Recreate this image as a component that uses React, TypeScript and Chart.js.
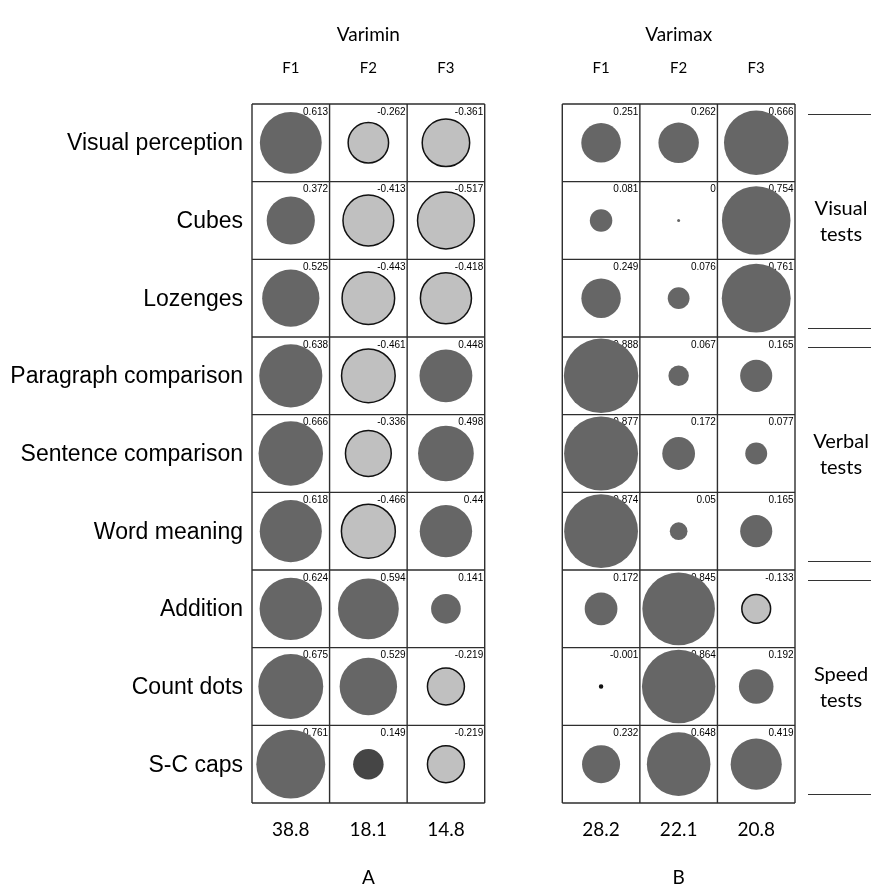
import React, { useEffect, useRef } from "react";
import { Chart, registerables } from "chart.js";

Chart.register(...registerables);

const tests = [
  "Visual perception",
  "Cubes",
  "Lozenges",
  "Paragraph comparison",
  "Sentence comparison",
  "Word meaning",
  "Addition",
  "Count dots",
  "S-C caps",
];
const factors = ["F1", "F2", "F3"];
const panelTitles = ["Varimin", "Varimax"];
const panelLetters = ["A", "B"];

const variminF1 = [0.613, 0.372, 0.525, 0.638, 0.666, 0.618, 0.624, 0.675, 0.761];
const variminF2 = [-0.262, -0.413, -0.443, -0.461, -0.336, -0.466, 0.594, 0.529, 0.149];
const variminF3 = [-0.361, -0.517, -0.418, 0.448, 0.498, 0.44, 0.141, -0.219, -0.219];

const varimaxF1 = [0.251, 0.081, 0.249, 0.888, 0.877, 0.874, 0.172, -0.001, 0.232];
const varimaxF2 = [0.262, 0, 0.076, 0.067, 0.172, 0.05, 0.845, 0.864, 0.648];
const varimaxF3 = [0.666, 0.754, 0.761, 0.165, 0.077, 0.165, -0.133, 0.192, 0.419];

const variminVariance = ["38.8", "18.1", "14.8"];
const varimaxVariance = ["28.2", "22.1", "20.8"];

const groupLabels = [
  ["Visual", "tests"],
  ["Verbal", "tests"],
  ["Speed", "tests"],
];
const groupFirstRow = [0, 3, 6];
const groupLastRow = [2, 5, 8];

const panels = [
  { columns: [variminF1, variminF2, variminF3], variance: variminVariance },
  { columns: [varimaxF1, varimaxF2, varimaxF3], variance: varimaxVariance },
];

const POS = "#666666";
const NEG = "#c0c0c0";
const DARK = "#454545";
const SANS = "'Liberation Sans', Arial, sans-serif";
const CAL = "Lato, 'Open Sans', sans-serif";

function radius(v: number) {
  return Math.max(1.5, 39.5 * Math.sqrt(Math.abs(v)));
}

export default function App() {
  const ref = useRef<HTMLCanvasElement | null>(null);

  useEffect(() => {
    document.body.style.margin = "0";
    document.body.style.overflow = "hidden";
    const canvas = ref.current;
    if (!canvas) return;

    const datasets: any[] = [];
    panels.forEach((panel, p) => {
      panel.columns.forEach((col, j) => {
        datasets.push({
          label: panelTitles[p] + " " + factors[j],
          data: col.map((v, i) => ({ x: p * 4 + j, y: i, r: radius(v), v })),
          backgroundColor: (ctx: any) => {
            const v = ctx.raw ? ctx.raw.v : 0;
            if (p === 0 && j === 1 && ctx.dataIndex === 8) return DARK;
            if (v < 0 && ctx.raw.r < 3) return "#111111";
            return v < 0 ? NEG : POS;
          },
          borderColor: (ctx: any) => {
            const v = ctx.raw ? ctx.raw.v : 0;
            return v < 0 ? "#111111" : "rgba(0,0,0,0)";
          },
          borderWidth: (ctx: any) => {
            const v = ctx.raw ? ctx.raw.v : 0;
            return v < 0 ? 1.5 : 0;
          },
          clip: false,
        });
      });
    });

    const decor = {
      id: "decor",
      beforeDatasetsDraw(chart: any) {
        const c = chart.ctx;
        const xs = chart.scales.x;
        const ys = chart.scales.y;
        c.save();
        c.strokeStyle = "#2e2e2e";
        c.lineWidth = 1.4;
        for (let p = 0; p < 2; p++) {
          const x0 = xs.getPixelForValue(p * 4 - 0.5);
          const x1 = xs.getPixelForValue(p * 4 + 2.5);
          const y0 = ys.getPixelForValue(-0.5);
          const y1 = ys.getPixelForValue(tests.length - 0.5);
          c.beginPath();
          for (let j = 0; j <= 3; j++) {
            const x = xs.getPixelForValue(p * 4 - 0.5 + j);
            c.moveTo(x, y0);
            c.lineTo(x, y1);
          }
          for (let i = 0; i <= tests.length; i++) {
            const y = ys.getPixelForValue(i - 0.5);
            c.moveTo(x0, y);
            c.lineTo(x1, y);
          }
          c.stroke();
        }
        c.fillStyle = "#000";
        c.font = "10px " + SANS;
        c.textAlign = "right";
        c.textBaseline = "alphabetic";
        panels.forEach((panel, p) => {
          panel.columns.forEach((col, j) => {
            col.forEach((v, i) => {
              const xr = xs.getPixelForValue(p * 4 + j + 0.5) - 1.5;
              const yt = ys.getPixelForValue(i - 0.5) + 10.5;
              c.fillText(String(v), xr, yt);
            });
          });
        });
        c.restore();
      },
      afterDraw(chart: any) {
        const c = chart.ctx;
        const xs = chart.scales.x;
        const ys = chart.scales.y;
        const area = chart.chartArea;
        c.save();
        c.fillStyle = "#000";
        c.font = "23px " + SANS;
        c.textAlign = "right";
        c.textBaseline = "middle";
        tests.forEach((t, i) => {
          c.fillText(t, area.left - 9, ys.getPixelForValue(i) + 1);
        });
        c.textAlign = "center";
        panels.forEach((panel, p) => {
          const xc = xs.getPixelForValue(p * 4 + 1);
          c.font = "19px " + CAL;
          c.fillText(panelTitles[p], xc, 35);
          c.font = "15px " + CAL;
          factors.forEach((f, j) => {
            c.fillText(f, xs.getPixelForValue(p * 4 + j), 68);
          });
          c.font = "19px " + CAL;
          panel.variance.forEach((s, j) => {
            c.fillText(s, xs.getPixelForValue(p * 4 + j), 830);
          });
          c.fillText(panelLetters[p], xc, 878);
        });
        c.strokeStyle = "#333333";
        c.lineWidth = 1.2;
        groupLabels.forEach((lines, g) => {
          const yTop = ys.getPixelForValue(groupFirstRow[g] - 0.5) + 10.5;
          const yBot = ys.getPixelForValue(groupLastRow[g] + 0.5) - 8.5;
          c.beginPath();
          c.moveTo(808, yTop);
          c.lineTo(871, yTop);
          c.moveTo(808, yBot);
          c.lineTo(871, yBot);
          c.stroke();
          const ym = (ys.getPixelForValue(groupFirstRow[g]) + ys.getPixelForValue(groupLastRow[g])) / 2;
          c.font = "20px " + CAL;
          c.fillText(lines[0], 841, ym - 12);
          c.fillText(lines[1], 841, ym + 14);
        });
        c.restore();
      },
    };

    const chart = new Chart(canvas, {
      type: "bubble",
      data: { datasets },
      options: {
        responsive: false,
        animation: false,
        events: [],
        layout: { padding: { left: 252, right: 76, top: 104, bottom: 83 } },
        scales: {
          x: { type: "linear", min: -0.5, max: 6.5, display: false },
          y: { type: "linear", min: -0.5, max: 8.5, reverse: true, display: false },
        },
        plugins: { legend: { display: false }, tooltip: { enabled: false } },
      },
      plugins: [decor],
    } as any);

    return () => chart.destroy();
  }, []);

  return (
    <canvas
      ref={ref}
      width={871}
      height={886}
      style={{ display: "block", width: 871, height: 886 }}
    />
  );
}
